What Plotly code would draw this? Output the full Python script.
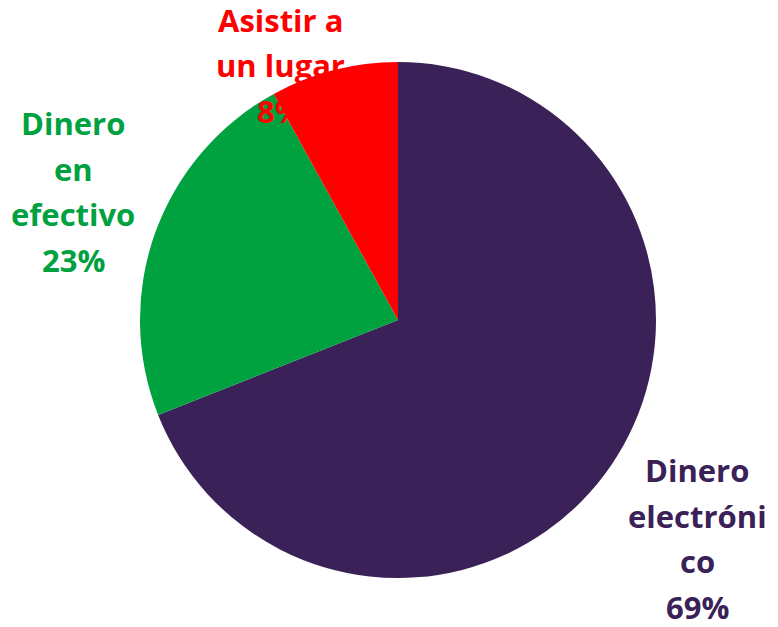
import plotly.graph_objects as go

# Payment method shares
categories = ["Dinero electrónico", "Dinero en efectivo", "Asistir a un lugar"]
values = [69, 23, 8]
colors = ["#3A2157", "#00A13F", "#FF0000"]
# Wrapped label text, one entry per line
label_lines = [
    ["Dinero", "electróni", "co"],
    ["Dinero", "en", "efectivo"],
    ["Asistir a", "un lugar"],
]
# Label anchor (x center, first-line middle in px) and line step
label_pos = [(697, 470), (73, 123), (280, 20)]
line_step = 45.5

W, H = 778, 627
cx, cy, r = 398, 320, 258

fig = go.Figure(go.Pie(
    labels=categories,
    values=values,
    sort=False,
    direction="clockwise",
    rotation=0,
    marker=dict(colors=colors, line=dict(width=0)),
    textinfo="none",
    hoverinfo="label+percent",
    domain=dict(x=[(cx - r) / W, (cx + r) / W],
                y=[(H - cy - r) / H, (H - cy + r) / H]),
))

total = sum(values)
annotations = []
for lines, (lx, ly), col, v in zip(label_lines, label_pos, colors, values):
    texts = lines + [f"{round(v / total * 100)}%"]
    for i, t in enumerate(texts):
        y = ly + i * line_step
        annotations.append(dict(
            x=lx / W, y=1 - y / H, xref="paper", yref="paper",
            text=f"<b>{t}</b>", showarrow=False,
            xanchor="center", yanchor="middle",
            font=dict(family="Open Sans", size=31, color=col),
        ))

fig.update_layout(
    width=W, height=H,
    margin=dict(l=0, r=0, t=0, b=0),
    paper_bgcolor="white",
    plot_bgcolor="white",
    showlegend=False,
    annotations=annotations,
)

fig.write_html("out.html")
